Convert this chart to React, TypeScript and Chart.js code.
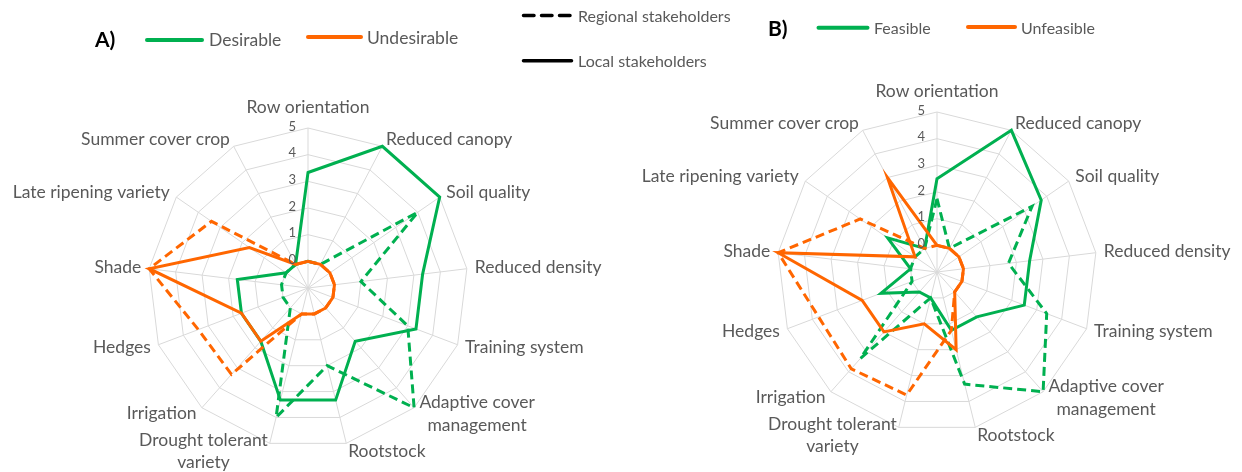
import React, { useEffect, useRef } from "react";
import { Chart, registerables } from "chart.js";

Chart.register(...registerables);

// ---------- data ----------
const categories: (string | string[])[] = [
  "Row orientation",
  "Reduced canopy",
  "Soil quality",
  "Reduced density",
  "Training system",
  ["Adaptive cover", "management"],
  "Rootstock",
  ["Drought tolerant", "variety"],
  "Irrigation",
  "Hedges",
  "Shade",
  "Late ripening variety",
  "Summer cover crop",
];

// A) desirability
const desirableLocal = [3.33, 5, 5, 3.33, 3.33, 1.67, 3.33, 3.33, 1.67, 1.67, 1.67, 0, 0];
const desirableRegional = [0, 0, 4, 1, 3, 5, 2, 4, 0, 0, 0, 0, 0];
const undesirableLocal = [0, 0, 0, 0, 0, 0, 0, 0, 1.67, 1.67, 5, 1.67, 0];
const undesirableRegional = [0, 0, 0, 0, 0, 0, 0, 0, 3.33, 3.4, 5, 3.4, 0];

// B) feasibility
const feasibleLocal = [2.5, 5, 3.75, 2.5, 2.5, 1.25, 1.25, 0, 0, 1.25, 0, 1.25, 0];
const feasibleRegional = [1.75, 0, 3.33, 1.7, 3.4, 5, 3.33, 0, 3.33, 0, 0, 0, 0];
const unfeasibleLocal = [0, 0, 0, 0, 0, 0, 2, 1, 2, 2, 5, 0, 3];
const unfeasibleRegional = [0, 0, 0, 0, 0, 0, 1.25, 3.75, 3.85, 3.75, 5, 2.5, 0];

const tickLabels = [0, 1, 2, 3, 4, 5];
const scaleMin = -1;
const scaleMax = 5;

// ---------- style ----------
const GREEN = "#00B050";
const ORANGE = "#FF6600";
const GRID = "#D9D9D9";
const TEXT = "#595959";
const FONT = "Lato, 'Open Sans', sans-serif";
const DASH = [9, 5];

const excelLabels = {
  id: "excelLabels",
  afterDraw(chart: any) {
    const scale = chart.scales.r;
    const ctx = chart.ctx as CanvasRenderingContext2D;
    ctx.save();
    ctx.fillStyle = TEXT;
    // tick labels, left of the vertical axis
    ctx.font = `13px ${FONT}`;
    ctx.textAlign = "right";
    ctx.textBaseline = "middle";
    tickLabels.forEach((v) => {
      const p = scale.getPointPositionForValue(0, v);
      ctx.fillText(String(v), p.x - 12, p.y - 1.5);
    });
    // category labels
    ctx.font = `17.5px ${FONT}`;
    const R = scale.drawingArea;
    const lh = 22.4;
    (chart.data.labels as (string | string[])[]).forEach((lab, i) => {
      const lines = Array.isArray(lab) ? lab : [lab];
      const p = scale.getPointPosition(i, R + 8);
      const dx = p.x - scale.xCenter;
      const bw = Math.max(...lines.map((l) => ctx.measureText(l).width));
      let cx = p.x;
      if (dx > 1) cx = p.x + bw / 2;
      else if (dx < -1) cx = p.x - bw / 2;
      let cy = p.y;
      if (Math.abs(dx) <= 1 && p.y < scale.yCenter) cy = p.y - 13;
      ctx.textAlign = "center";
      lines.forEach((l, k) => {
        ctx.fillText(l, cx, cy + (k - (lines.length - 1) / 2) * lh);
      });
    });
    ctx.restore();
  },
};

type Series = { label: string; data: number[]; color: string; dashed: boolean };

function Radar({ series, padding }: { series: Series[]; padding: { left: number; right: number; top: number; bottom: number } }) {
  const ref = useRef<HTMLCanvasElement | null>(null);
  useEffect(() => {
    if (!ref.current) return;
    const chart = new Chart(ref.current, {
      type: "radar",
      data: {
        labels: categories as any,
        datasets: series.map((s) => ({
          label: s.label,
          data: s.data,
          borderColor: s.color,
          backgroundColor: "rgba(0,0,0,0)",
          borderWidth: 3,
          borderDash: s.dashed ? DASH : [],
          borderCapStyle: "butt",
          borderJoinStyle: "miter",
          pointRadius: 0,
          pointHoverRadius: 0,
          fill: false,
          tension: 0,
        })),
      },
      options: {
        responsive: false,
        maintainAspectRatio: false,
        animation: false,
        events: [],
        layout: { padding },
        plugins: { legend: { display: false }, tooltip: { enabled: false } },
        scales: {
          r: {
            min: scaleMin,
            max: scaleMax,
            startAngle: 0,
            ticks: { stepSize: 1, display: false },
            grid: { color: GRID, lineWidth: 1, circular: false },
            angleLines: { color: GRID, lineWidth: 1 },
            pointLabels: { display: false },
          },
        },
      } as any,
      plugins: [excelLabels],
    });
    return () => chart.destroy();
  }, []);
  return (
    <canvas
      ref={ref}
      width={1242}
      height={472}
      style={{ position: "absolute", left: 0, top: 0, width: 1242, height: 472 }}
    />
  );
}

const txt = (left: number, cy: number, s: string, size = 17, extra: React.CSSProperties = {}) => (
  <div
    style={{
      position: "absolute",
      left,
      top: cy - 12,
      height: 24,
      lineHeight: "24px",
      fontFamily: FONT,
      fontSize: size,
      color: TEXT,
      whiteSpace: "nowrap",
      ...extra,
    }}
  >
    {s}
  </div>
);

export default function App() {
  const seriesA: Series[] = [
    { label: "Undesirable local", data: undesirableLocal, color: ORANGE, dashed: false },
    { label: "Undesirable regional", data: undesirableRegional, color: ORANGE, dashed: true },
    { label: "Desirable local", data: desirableLocal, color: GREEN, dashed: false },
    { label: "Desirable regional", data: desirableRegional, color: GREEN, dashed: true },
  ];
  const seriesB: Series[] = [
    { label: "Unfeasible local", data: unfeasibleLocal, color: ORANGE, dashed: false },
    { label: "Unfeasible regional", data: unfeasibleRegional, color: ORANGE, dashed: true },
    { label: "Feasible local", data: feasibleLocal, color: GREEN, dashed: false },
    { label: "Feasible regional", data: feasibleRegional, color: GREEN, dashed: true },
  ];
  return (
    <div style={{ position: "fixed", left: 0, top: 0, width: 1242, height: 472, background: "#fff", overflow: "hidden" }}>
      <Radar series={seriesA} padding={{ left: 148, right: 774, top: 128, bottom: 24 }} />
      <Radar series={seriesB} padding={{ left: 777, right: 145, top: 112, bottom: 40 }} />
      <svg width={1242} height={472} style={{ position: "absolute", left: 0, top: 0 }}>
        <line x1={147} y1={40} x2={202} y2={40} stroke={GREEN} strokeWidth={4} strokeLinecap="round" />
        <line x1={308} y1={37} x2={361} y2={37} stroke={ORANGE} strokeWidth={4} strokeLinecap="round" />
        <line x1={523.5} y1={15.5} x2={570} y2={15.5} stroke="#000" strokeWidth={3.5} strokeLinecap="round" strokeDasharray="10.5 7.5" />
        <line x1={523.5} y1={60.7} x2={571.5} y2={60.7} stroke="#000" strokeWidth={3.5} strokeLinecap="round" />
        <line x1={818.5} y1={27.7} x2={867.5} y2={27.7} stroke={GREEN} strokeWidth={4} strokeLinecap="round" />
        <line x1={968} y1={27} x2={1015} y2={27} stroke={ORANGE} strokeWidth={4} strokeLinecap="round" />
      </svg>
      {txt(95, 39, "A)", 21, { fontWeight: 700, color: "#000" })}
      {txt(209, 39.5, "Desirable", 17.5)}
      {txt(367, 38, "Undesirable", 17.5)}
      {txt(578, 15.5, "Regional stakeholders", 16)}
      {txt(578, 61, "Local stakeholders", 16)}
      {txt(768, 28.3, "B)", 21, { fontWeight: 700, color: "#000" })}
      {txt(874, 27.5, "Feasible", 16)}
      {txt(1021, 27.5, "Unfeasible", 16)}
    </div>
  );
}
